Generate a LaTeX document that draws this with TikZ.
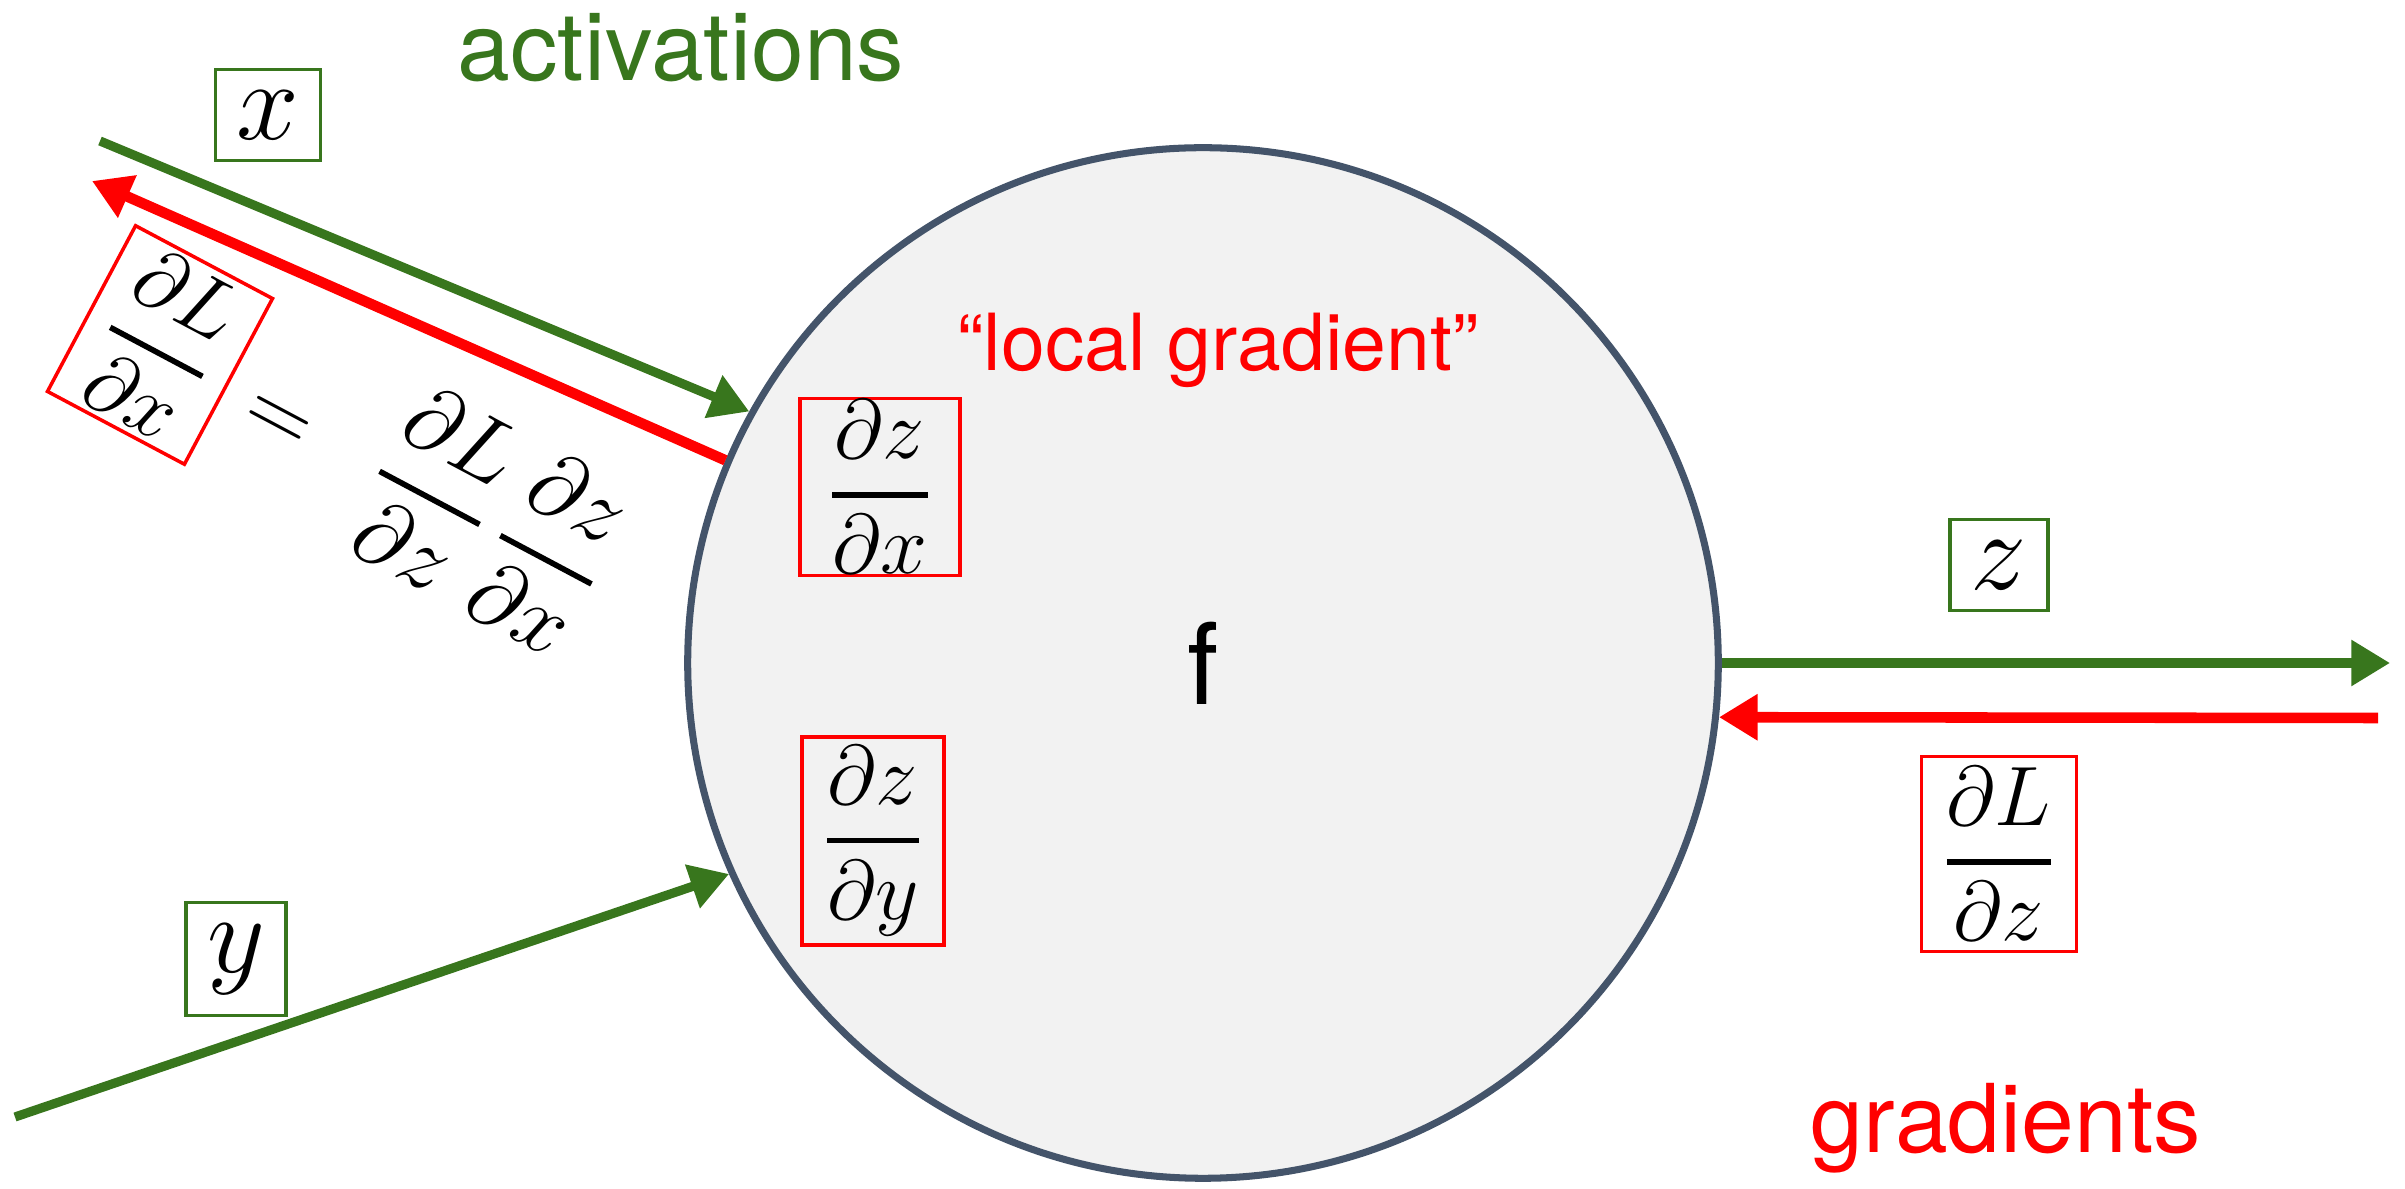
\RequirePackage{fix-cm}
\documentclass[tikz,border=0pt]{standalone}
\usepackage{amsmath}
\usepackage{fontspec}
\usepackage{tikz}
\usetikzlibrary{arrows.meta}
\newfontfamily\labelfont{TeX Gyre Heros}
\definecolor{actgreen}{RGB}{56,118,29}
\definecolor{nodeedge}{RGB}{68,84,106}
\definecolor{nodefill}{RGB}{242,242,242}
\newcommand{\gfrac}[2]{\genfrac{}{}{1.6pt}{0}{#1}{#2}}

\begin{document}
\begin{tikzpicture}[x=0.01cm,y=-0.01cm]
\tikzset{
  actbox/.style={draw=actgreen, line width=1pt, inner sep=6pt, font=\fontsize{32}{36}\selectfont},
  gradbox/.style={draw=red, line width=1pt, inner xsep=6pt, inner ysep=3pt, font=\fontsize{24}{28}\selectfont},
  fwd/.style={draw=actgreen, line width=2.6pt, -{Triangle[length=11pt,width=12.5pt]}},
  bwd/.style={draw=red, line width=3pt, -{Triangle[length=11pt,width=12.5pt]}},
  lbl/.style={font=\labelfont\fontsize{27}{30}\selectfont, anchor=base},
}
\useasboundingbox (0,0) rectangle (2405,1189);

% the gate
\node[circle, draw=nodeedge, fill=nodefill, line width=2pt, minimum size=10.3cm,
  font=\labelfont\fontsize{32}{36}\selectfont] (gate) at (1203,663) {f};

\node[lbl, text=actgreen] (acts) at (681,81) {activations};
\node[lbl, text=red] (grads) at (2006,1153) {gradients};
\node[lbl, text=red, font=\labelfont\fontsize{22.4}{26}\selectfont] (local) at (1218,371) {“local gradient”};

% values and gradients
\node[actbox] (xval) at (268,115) {$x$};
\node[actbox] (yval) at (236,959) {$y$};
\node[actbox] (zval) at (1999,565) {$z$};
\node[gradbox, inner xsep=8pt, inner ysep=0.5pt] (dzdx) at (880,487) {$\gfrac{\partial z}{\partial x}$};
\node[gradbox, inner ysep=2.5pt] (dzdy) at (873,841) {$\gfrac{\partial z}{\partial y}$};
\node[gradbox] (dLdz) at (1999,854) {$\gfrac{\partial L}{\partial z}$};

% chain rule, tilted along the x input
\node[gradbox, inner ysep=2pt, rotate=-28] (dLdx) at (160,345) {$\gfrac{\partial L}{\partial x}$};
\node[rotate=-28, anchor=west, font=\fontsize{26}{30}\selectfont] (chain) at (dLdx.east)
  {$\,=\;\;\gfrac{\partial L}{\partial z}\,\gfrac{\partial z}{\partial x}$};

\coordinate (xin) at (100,141);
\coordinate (xback) at (92,181);
\coordinate (yin) at (15,1117);
\coordinate (zout) at (2390,663);
\coordinate (zback) at (2378,718);

\draw[fwd] (xin) -- (gate.151);
\draw[bwd] (gate.157) -- (xback);
\draw[fwd] (yin) -- (gate.204);
\draw[fwd] (gate.east) -- (zout);
\draw[bwd] (zback) -- (gate.-6);
\end{tikzpicture}
\end{document}
